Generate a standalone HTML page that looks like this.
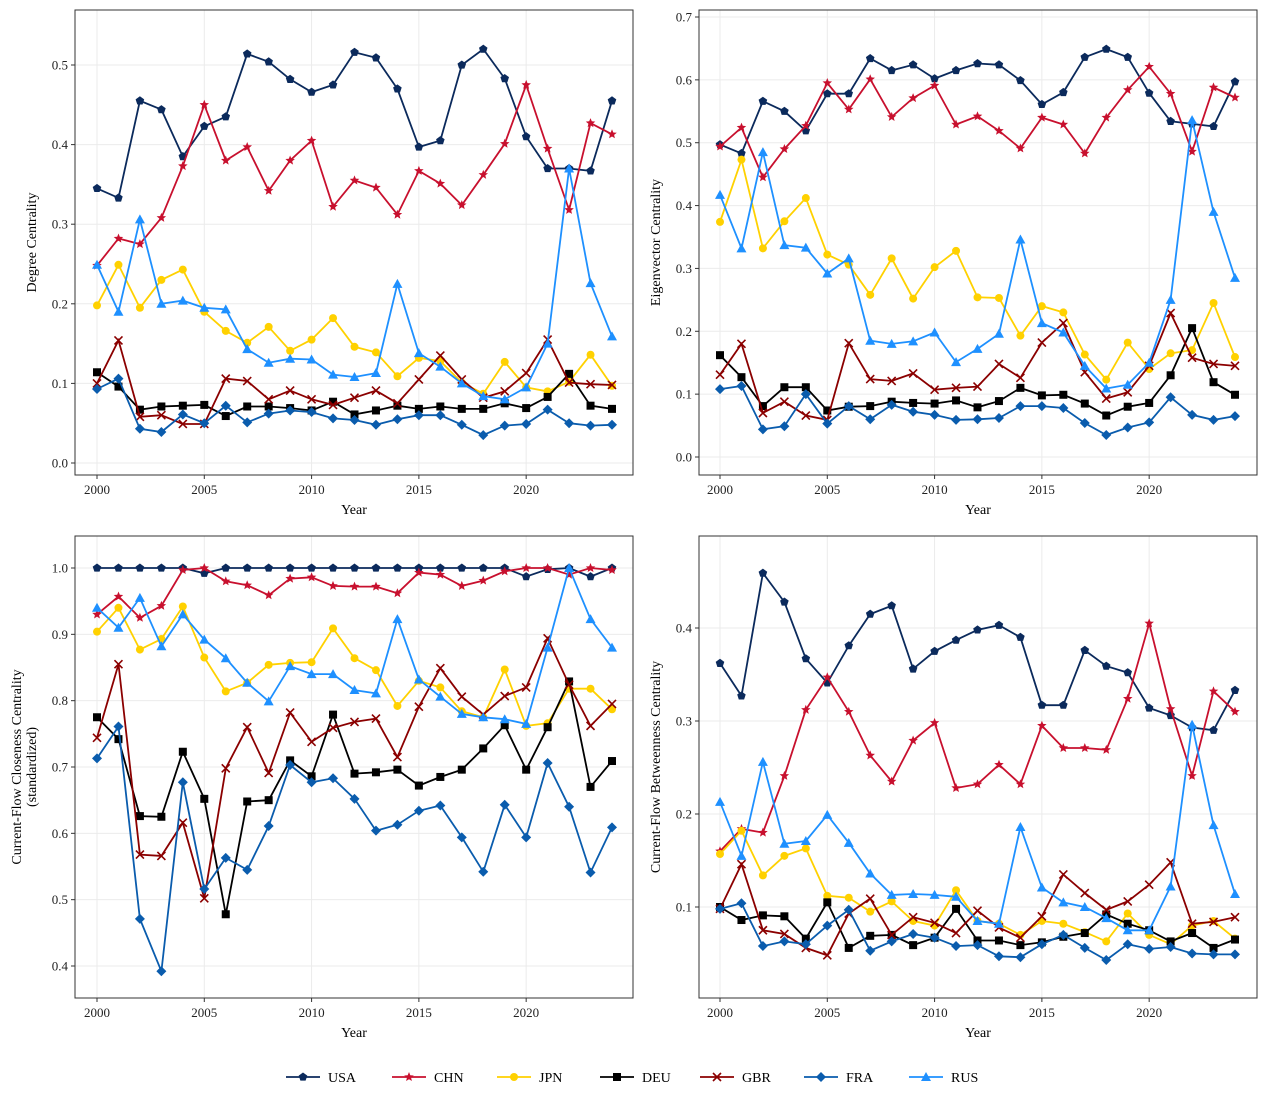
<!DOCTYPE html>
<html><head><meta charset="utf-8"><style>
body{margin:0;background:#fff;}
svg text{font-family:"Liberation Serif",serif;}
</style></head><body>
<svg id="s" width="1267" height="1102" xmlns="http://www.w3.org/2000/svg"></svg>
<script>
const C={USA:"#0b2a5c",CHN:"#c8102e",JPN:"#ffd100",DEU:"#000000",GBR:"#8b0000",FRA:"#0a5cad",RUS:"#1e90ff"};
const M={USA:"pent",CHN:"star",JPN:"circ",DEU:"sq",GBR:"x",FRA:"dia",RUS:"tri"};
const order=["USA","CHN","JPN","DEU","GBR","FRA","RUS"];
const P=[
{bx:[75,633],by:[10,475],x0:97,x1:612,yv:[0,0.5],yp:[463,65],ticks:[0,.1,.2,.3,.4,.5],dec:1,ylab:["Degree Centrality"],
d:{USA:[.345,.333,.455,.444,.385,.423,.435,.514,.504,.482,.466,.475,.516,.509,.470,.397,.405,.500,.520,.483,.410,.370,.370,.367,.455],
CHN:[.248,.282,.275,.308,.373,.450,.380,.397,.342,.380,.405,.322,.355,.346,.312,.367,.351,.324,.362,.401,.475,.395,.318,.427,.413],
JPN:[.198,.249,.195,.230,.243,.190,.166,.151,.171,.141,.155,.182,.146,.139,.109,.132,.128,.101,.087,.127,.095,.090,.102,.136,.097],
DEU:[.114,.096,.067,.071,.072,.073,.059,.071,.071,.069,.066,.077,.061,.066,.072,.068,.071,.068,.068,.075,.069,.083,.112,.072,.068],
GBR:[.100,.154,.058,.060,.049,.049,.106,.103,.080,.091,.080,.073,.082,.091,.075,.105,.135,.105,.082,.090,.113,.155,.101,.099,.098],
FRA:[.093,.106,.043,.039,.061,.050,.072,.051,.062,.066,.064,.056,.054,.048,.055,.060,.060,.048,.035,.047,.049,.067,.050,.047,.048],
RUS:[.249,.190,.306,.200,.204,.195,.193,.143,.126,.131,.130,.111,.108,.113,.225,.138,.121,.100,.084,.080,.095,.150,.370,.226,.159]}},
{bx:[699,1257],by:[10,475],x0:720,x1:1235,yv:[0,0.7],yp:[457,17],ticks:[0,.1,.2,.3,.4,.5,.6,.7],dec:1,ylab:["Eigenvector Centrality"],
d:{USA:[.497,.483,.566,.550,.519,.578,.578,.634,.615,.624,.602,.615,.626,.624,.599,.561,.580,.636,.649,.636,.579,.534,.530,.526,.597],
CHN:[.494,.524,.445,.490,.527,.595,.553,.601,.541,.571,.591,.529,.542,.519,.491,.540,.529,.483,.540,.584,.621,.578,.486,.588,.572],
JPN:[.374,.473,.332,.375,.412,.322,.306,.258,.316,.252,.302,.328,.254,.253,.193,.240,.230,.163,.123,.182,.140,.165,.170,.245,.159],
DEU:[.162,.127,.081,.111,.111,.074,.080,.081,.088,.086,.085,.090,.079,.089,.110,.098,.099,.085,.066,.080,.086,.130,.205,.119,.099],
GBR:[.131,.180,.070,.088,.066,.059,.181,.124,.121,.133,.107,.110,.112,.148,.126,.182,.213,.135,.093,.103,.145,.229,.158,.148,.145],
FRA:[.108,.113,.044,.049,.100,.053,.081,.060,.083,.072,.067,.059,.060,.062,.081,.081,.078,.054,.035,.047,.055,.095,.067,.059,.065],
RUS:[.417,.332,.485,.337,.333,.292,.316,.185,.180,.184,.198,.151,.172,.196,.346,.213,.198,.145,.109,.115,.150,.250,.536,.390,.285]}},
{bx:[75,633],by:[536,998],x0:97,x1:612,yv:[0.4,1.0],yp:[966,568],ticks:[.4,.5,.6,.7,.8,.9,1.0],dec:1,ylab:["Current-Flow Closeness Centrality","(standardized)"],
d:{USA:[1,1,1,1,1,.992,1,1,1,1,1,1,1,1,1,1,1,1,1,1,.987,.998,1,.987,1],
CHN:[.930,.957,.925,.943,.997,1.0,.980,.974,.959,.984,.986,.973,.972,.972,.962,.993,.990,.973,.981,.995,1.0,1.0,.990,1.0,.997],
JPN:[.904,.940,.877,.893,.942,.865,.814,.827,.854,.857,.858,.909,.864,.846,.792,.830,.820,.784,.775,.847,.762,.766,.818,.818,.787],
DEU:[.775,.742,.626,.625,.723,.652,.478,.648,.650,.710,.686,.779,.690,.692,.696,.672,.685,.696,.728,.763,.696,.760,.829,.670,.709],
GBR:[.744,.855,.568,.566,.616,.502,.698,.760,.691,.782,.738,.759,.768,.773,.715,.791,.849,.806,.779,.807,.820,.894,.824,.762,.795],
FRA:[.713,.761,.471,.392,.677,.516,.563,.545,.611,.703,.677,.683,.652,.604,.613,.634,.642,.594,.542,.643,.594,.706,.640,.541,.609],
RUS:[.940,.910,.955,.882,.930,.892,.864,.827,.799,.852,.840,.840,.816,.811,.923,.832,.806,.780,.775,.772,.765,.880,1.0,.923,.880]}},
{bx:[699,1257],by:[536,998],x0:720,x1:1235,yv:[0.1,0.4],yp:[907,628],ticks:[.1,.2,.3,.4],dec:1,ylab:["Current-Flow Betweenness Centrality"],
d:{USA:[.362,.327,.459,.428,.367,.341,.381,.415,.424,.356,.375,.387,.398,.403,.390,.317,.317,.376,.359,.352,.314,.306,.293,.290,.333],
CHN:[.160,.184,.180,.241,.312,.347,.310,.263,.235,.279,.298,.228,.232,.253,.232,.295,.271,.271,.269,.324,.405,.313,.241,.332,.310],
JPN:[.157,.182,.134,.155,.163,.112,.110,.095,.106,.085,.080,.118,.085,.082,.070,.085,.082,.073,.063,.093,.070,.060,.080,.085,.066],
DEU:[.100,.086,.091,.090,.066,.105,.056,.069,.070,.059,.067,.098,.064,.064,.059,.062,.068,.072,.092,.082,.075,.063,.072,.056,.065],
GBR:[.098,.146,.075,.071,.056,.048,.093,.109,.070,.089,.083,.072,.096,.078,.067,.090,.135,.115,.097,.106,.124,.148,.082,.084,.089],
FRA:[.098,.104,.058,.063,.060,.080,.097,.053,.063,.071,.067,.058,.059,.047,.046,.060,.070,.056,.043,.060,.055,.057,.050,.049,.049],
RUS:[.213,.155,.256,.168,.171,.199,.169,.136,.113,.114,.113,.111,.085,.082,.186,.121,.105,.100,.088,.075,.075,.122,.296,.188,.114]}}
];
function mk(t,x,y,c){const r=4;
if(t=="circ")return `<circle cx="${x}" cy="${y}" r="4" fill="${c}"/>`;
if(t=="sq")return `<rect x="${x-4}" y="${y-4}" width="8" height="8" fill="${c}"/>`;
if(t=="dia")return `<polygon points="${x},${y-5} ${x+5},${y} ${x},${y+5} ${x-5},${y}" fill="${c}"/>`;
if(t=="tri")return `<polygon points="${x},${y-5} ${x+5},${y+4} ${x-5},${y+4}" fill="${c}"/>`;
if(t=="x")return `<path d="M${x-4} ${y-4}L${x+4} ${y+4}M${x-4} ${y+4}L${x+4} ${y-4}" stroke="${c}" stroke-width="1.6"/>`;
let n=t=="pent"?5:10,pts=[];
for(let i=0;i<n;i++){let a=-Math.PI/2+i*2*Math.PI/n;let rr=t=="pent"?4.5:(i%2?2.2:5);pts.push((x+rr*Math.cos(a)).toFixed(1)+","+(y+rr*Math.sin(a)).toFixed(1));}
return `<polygon points="${pts.join(" ")}" fill="${c}"/>`;}
let h="";
for(const p of P){
const X=i=>p.x0+(p.x1-p.x0)*i/24, Y=v=>p.yp[0]+(p.yp[1]-p.yp[0])*(v-p.yv[0])/(p.yv[1]-p.yv[0]);
const [l,r]=p.bx,[t,b]=p.by;
for(const v of p.ticks){const y=Y(v);h+=`<line x1="${l}" x2="${r}" y1="${y}" y2="${y}" stroke="#ebebeb"/>`;
h+=`<line x1="${l-4}" x2="${l}" y1="${y}" y2="${y}" stroke="#333"/><text x="${l-7}" y="${y+4.5}" font-size="13" text-anchor="end" fill="#222">${v.toFixed(1)}</text>`;}
for(let yr=0;yr<=20;yr+=5){const x=X(yr);h+=`<line x1="${x}" x2="${x}" y1="${t}" y2="${b}" stroke="#ebebeb"/><line x1="${x}" x2="${x}" y1="${b}" y2="${b+4}" stroke="#333"/><text x="${x}" y="${b+19}" font-size="13" text-anchor="middle" fill="#222">${2000+yr}</text>`;}
h+=`<text x="${(l+r)/2}" y="${b+39}" font-size="14" text-anchor="middle">Year</text>`;
const cy=(t+b)/2;
if(p.ylab.length==1)h+=`<text transform="translate(${l-39},${cy}) rotate(-90)" font-size="14" text-anchor="middle">${p.ylab[0]}</text>`;
else{h+=`<text transform="translate(${l-54},${cy}) rotate(-90)" font-size="14" text-anchor="middle">${p.ylab[0]}</text><text transform="translate(${l-39},${cy}) rotate(-90)" font-size="14" text-anchor="middle">${p.ylab[1]}</text>`;}
for(const k of ["RUS","FRA","GBR","DEU","JPN","CHN","USA"].reverse().reverse()){}
for(const k of order){const d=p.d[k];h+=`<polyline fill="none" stroke="${C[k]}" stroke-width="1.8" points="${d.map((v,i)=>X(i).toFixed(1)+","+Y(v).toFixed(1)).join(" ")}"/>`;
d.forEach((v,i)=>h+=mk(M[k],X(i),Y(v),C[k]));}
h+=`<rect x="${l}" y="${t}" width="${r-l}" height="${b-t}" fill="none" stroke="#333" stroke-width="1"/>`;
}
const lx=[286,392,497,600,700,804,909];
order.forEach((k,i)=>{const x=lx[i],y=1077;h+=`<line x1="${x}" x2="${x+34}" y1="${y}" y2="${y}" stroke="${C[k]}" stroke-width="1.8"/>`+mk(M[k],x+17,y,C[k])+`<text x="${x+42}" y="${y+5}" font-size="14">${k}</text>`;});
document.getElementById("s").innerHTML=h;
</script>
</body></html>
